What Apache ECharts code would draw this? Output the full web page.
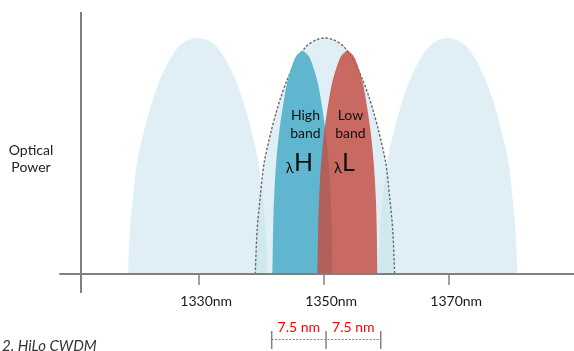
<!DOCTYPE html>
<html><head><meta charset="utf-8">
<script src="https://cdn.jsdelivr.net/npm/echarts@6/dist/echarts.min.js"></script>
<style>html,body{margin:0;padding:0;background:#fff}#c{width:574px;height:351px}</style>
</head><body><div id="c"></div>
<script>
// ---- data (wavelength in nm, relative optical power) ----
const tickValues = [1330, 1350, 1370];
const tickUnit = 'nm';
const leftBell = [[1318.70,0],[1319.00,18.7],[1319.50,32.7],[1320.12,47.1],[1321.29,61.0],[1322.01,68.1],[1322.81,75.1],[1323.80,82.2],[1325.05,89.3],[1326.81,96.3],[1328.46,99.2],[1329.85,100],[1331.24,99.2],[1332.89,96.3],[1334.65,89.3],[1335.90,82.2],[1336.89,75.1],[1337.69,68.1],[1338.41,61.0],[1339.58,47.1],[1340.20,32.7],[1340.70,18.7],[1341.00,0]];
const middleBell = [[1339.05,0],[1339.35,18.7],[1339.85,32.7],[1340.47,47.1],[1341.64,61.0],[1342.36,68.1],[1343.16,75.1],[1344.15,82.2],[1345.40,89.3],[1347.16,96.3],[1348.81,99.2],[1350.20,100],[1351.59,99.2],[1353.24,96.3],[1355.00,89.3],[1356.25,82.2],[1357.24,75.1],[1358.04,68.1],[1358.76,61.0],[1359.93,47.1],[1360.55,32.7],[1361.05,18.7],[1361.35,0]];
const rightBell = [[1358.70,0],[1359.00,18.7],[1359.50,32.7],[1360.12,47.1],[1361.29,61.0],[1362.01,68.1],[1362.81,75.1],[1363.80,82.2],[1365.05,89.3],[1366.81,96.3],[1368.46,99.2],[1369.85,100],[1371.24,99.2],[1372.89,96.3],[1374.65,89.3],[1375.90,82.2],[1376.89,75.1],[1377.69,68.1],[1378.41,61.0],[1379.58,47.1],[1380.20,32.7],[1380.70,18.7],[1381.00,0]];
const highBand = [[1341.80,0],[1341.91,18.7],[1342.07,32.8],[1342.39,47.0],[1342.92,61.0],[1343.72,75.1],[1344.25,82.2],[1345.08,89.3],[1345.53,92.1],[1345.96,93.4],[1346.60,94.6],[1347.24,93.4],[1347.67,92.1],[1348.12,89.3],[1348.95,82.2],[1349.48,75.1],[1350.28,61.0],[1350.81,47.0],[1351.13,32.8],[1351.29,18.7],[1351.40,0]];
const lowBand = [[1349.00,0],[1349.11,18.7],[1349.27,32.8],[1349.59,47.0],[1350.12,61.0],[1350.92,75.1],[1351.45,82.2],[1352.28,89.3],[1352.73,92.1],[1353.16,93.4],[1353.80,94.6],[1354.44,93.4],[1354.87,92.1],[1355.32,89.3],[1356.15,82.2],[1356.68,75.1],[1357.48,61.0],[1358.01,47.0],[1358.33,32.8],[1358.49,18.7],[1358.60,0]];
const yAxisAt = 1311.17;
const bandCenters = [1346.6, 1353.8];
const bandWords = [['High', 'band', 'H'], ['Low', 'band', 'L']];
const bracketEdges = [1341.68, 1350.37, 1359.12];
const bracketLabels = ['7.5 nm', '7.5 nm'];
const yTitle = ['Optical', 'Power'];
const caption = '2. HiLo CWDM';

// ---- chart ----
const FONT = 'Lato, "DejaVu Sans", sans-serif';
const GREY = '#808080';
const chart = echarts.init(document.getElementById('c'), null, {renderer: 'canvas'});

function areaSeries(data, color, z, line) {
  return {
    type: 'line', data: data, smooth: 0.3, symbol: 'none', silent: true, z: z,
    lineStyle: line || {width: 0, opacity: 0},
    areaStyle: {color: color, opacity: 1},
    emphasis: {disabled: true}
  };
}

chart.setOption({
  animation: false,
  grid: {left: 60, right: 0, top: 12, bottom: 58},
  xAxis: {
    type: 'value', min: 1307.81, max: 1390.05, z: 10,
    axisLine: {onZero: true, lineStyle: {color: GREY, width: 2}},
    axisTick: {show: true, customValues: tickValues, length: 11, lineStyle: {color: GREY, width: 1.5}},
    axisLabel: {customValues: tickValues, formatter: v => v + tickUnit, color: '#1a1a1a',
      fontFamily: FONT, fontSize: 14, margin: 1, align: 'center', padding: [0, 0, 0, 15]},
    splitLine: {show: false}
  },
  yAxis: {type: 'value', min: -8, max: 111, show: false},
  series: [
    Object.assign(areaSeries(leftBell, 'rgba(196,226,236,0.55)', 2), {
      markLine: {silent: true, symbol: ['none', 'none'], label: {show: false},
        lineStyle: {type: 'solid', color: GREY, width: 2}, data: [{xAxis: yAxisAt}]}
    }),
    areaSeries(rightBell, 'rgba(196,226,236,0.55)', 2),
    areaSeries(middleBell, 'rgba(196,226,236,0.55)', 3, {type: [2.5, 1.8], color: '#6a6a6a', width: 1.4}),
    areaSeries(highBand, '#60b6ce', 4),
    areaSeries(lowBand, 'rgba(196,77,66,0.82)', 5)
  ]
});

const px = v => chart.convertToPixel({xAxisIndex: 0}, v);
const graphics = [];
graphics.push({type: 'text', x: 31, y: 158.5, z: 20, style: {text: yTitle.join('\n'), fill: '#222', font: '14px ' + FONT, align: 'center', verticalAlign: 'middle', lineHeight: 17}});
graphics.push({type: 'text', x: 2, y: 346, z: 20, style: {text: caption, fill: '#333', font: 'italic 15px ' + FONT, align: 'left', verticalAlign: 'middle'}});
bandCenters.forEach((c, i) => {
  const cx = px(c);
  graphics.push({type: 'text', x: cx + 3, y: 124, z: 20, style: {text: bandWords[i][0] + '\n' + bandWords[i][1], fill: '#111', font: '14px ' + FONT, align: 'center', verticalAlign: 'middle', lineHeight: 18}});
  graphics.push({type: 'text', x: cx - 3, y: 163, z: 20, style: {text: '{a|λ}{b|' + bandWords[i][2] + '}', align: 'center', verticalAlign: 'middle',
    rich: {a: {fontSize: 15, lineHeight: 18, fontFamily: FONT, fill: '#111', verticalAlign: 'bottom'},
           b: {fontSize: 25, lineHeight: 25, fontFamily: FONT, fill: '#111', verticalAlign: 'bottom'}}}});
});
const bx = bracketEdges.map(px);
bx.forEach(x => graphics.push({type: 'line', z: 20, shape: {x1: x, y1: 331, x2: x, y2: 349}, style: {stroke: GREY, lineWidth: 1.5}}));
graphics.push({type: 'line', z: 20, shape: {x1: bx[0], y1: 339.5, x2: bx[bx.length - 1], y2: 339.5}, style: {stroke: GREY, lineWidth: 1, lineDash: [2, 1.5]}});
bracketLabels.forEach((t, i) => graphics.push({type: 'text', z: 20, x: (bx[i] + bx[i + 1]) / 2, y: 327, style: {text: t, fill: '#ff0000', font: '14px ' + FONT, align: 'center', verticalAlign: 'middle'}}));
chart.setOption({graphic: graphics});
</script></body></html>
